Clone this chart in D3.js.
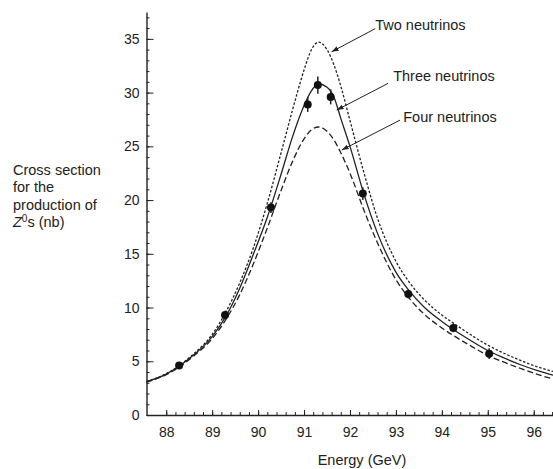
<!DOCTYPE html>
<html>
<head>
<meta charset="utf-8">
<script src="https://cdn.jsdelivr.net/npm/d3@7"></script>
<style>
  body { margin: 0; background: #fff; }
  svg { display: block; font-family: "Liberation Sans", Arial, sans-serif; }
</style>
</head>
<body>
<div id="chart"></div>
<script>
// measured points (energy in GeV, cross section in nb)
const energies = [88.28, 89.28, 90.28, 91.08, 91.3, 91.58, 92.28, 93.27, 94.25, 95.03];
const crossSection = [4.6, 9.3, 19.3, 28.9, 30.7, 29.6, 20.6, 11.25, 8.1, 5.7];
const errors = [0.3, 0.4, 0.5, 0.7, 0.8, 0.7, 0.6, 0.4, 0.4, 0.5];

// predicted curves
const curveEnergy = [87.57, 88.0, 88.3, 88.6, 89.0, 89.3, 89.6, 89.9, 90.2, 90.5, 90.75, 91.0, 91.15, 91.32, 91.5,
    91.65, 91.8, 92.0, 92.3, 92.6, 93.0, 93.3, 93.6, 94.0, 94.25, 94.6, 95.0, 95.3, 95.7, 96.1, 96.42];
const twoNeutrinos = [3.1, 3.85, 4.65, 5.7, 7.5, 9.6, 12.3, 15.6, 19.7, 24.4, 28.4, 32.1, 33.9, 34.7, 34.0,
    32.6, 30.6, 27.4, 22.6, 18.3, 14.3, 12.3, 10.8, 9.3, 8.55, 7.55, 6.5, 5.85, 5.1, 4.45, 4.05];
const threeNeutrinos = [3.1, 3.8, 4.6, 5.6, 7.3, 9.2, 11.8, 15.0, 18.4, 22.4, 25.9, 28.8, 30.1, 30.8, 30.5,
    29.6, 27.6, 25.0, 20.6, 16.9, 13.3, 11.5, 10.1, 8.7, 7.95, 7.0, 6.0, 5.4, 4.7, 4.1, 3.7];
const fourNeutrinos = [3.05, 3.75, 4.5, 5.5, 7.1, 8.9, 11.2, 14.1, 17.4, 20.9, 23.6, 25.7, 26.5, 26.8, 26.4,
    25.6, 24.4, 22.5, 19.1, 16.0, 12.6, 10.8, 9.45, 8.1, 7.4, 6.5, 5.55, 5.0, 4.35, 3.75, 3.35];

const xTicks = [88, 89, 90, 91, 92, 93, 94, 95, 96];
const yTicks = [0, 5, 10, 15, 20, 25, 30, 35];

const labels = ["Two neutrinos", "Three neutrinos", "Four neutrinos"];
const labelAt = [[92.55, 35.8], [92.94, 31.07], [93.16, 27.26]];
const arrowFrom = [[92.55, 35.95], [92.83, 30.86], [93.09, 27.44]];
const arrowTo = [[91.6, 33.8], [91.71, 28.37], [91.82, 24.65]];

const width = 553, height = 469;

const svg = d3.select("#chart").append("svg")
    .attr("width", width)
    .attr("height", height);

const x = d3.scaleLinear().domain([87.57, 96.42]).range([146.5, 553]);
const y = d3.scaleLinear().domain([0, 37.5]).range([415, 12]);

const ink = "#222";

// minor ticks first, then major axes on top
svg.append("g")
    .attr("transform", `translate(0,${y(0)})`)
    .call(d3.axisBottom(x).tickValues(d3.range(88, 96.41, 0.2)).tickSize(-3).tickSizeOuter(0).tickFormat(""))
    .call(g => g.select(".domain").remove());

svg.append("g")
    .attr("transform", `translate(${x(87.57)},0)`)
    .call(d3.axisLeft(y).tickValues(d3.range(0, 37.1, 1)).tickSize(-3).tickSizeOuter(0).tickFormat(""))
    .call(g => g.select(".domain").remove());

const xAxis = svg.append("g")
    .attr("transform", `translate(0,${y(0)})`)
    .call(d3.axisBottom(x).tickValues(xTicks).tickSize(-5).tickSizeOuter(0).tickPadding(12));

const yAxis = svg.append("g")
    .attr("transform", `translate(${x(87.57)},0)`)
    .call(d3.axisLeft(y).tickValues(yTicks).tickSize(-7).tickSizeOuter(0).tickPadding(7));

svg.selectAll(".tick line").attr("stroke", ink).attr("stroke-width", 1);
svg.selectAll(".domain").attr("stroke", ink).attr("stroke-width", 1.4);
svg.selectAll(".tick text")
    .attr("fill", ink)
    .style("font-size", "14px")
    .style("font-family", "'Liberation Sans', Arial, sans-serif");

// curves
const line = d3.line()
    .x((d, i) => x(curveEnergy[i]))
    .y(d => y(d))
    .curve(d3.curveMonotoneX);

const series = [
    { values: twoNeutrinos, dash: "2.5,1.8" },
    { values: threeNeutrinos, dash: null },
    { values: fourNeutrinos, dash: "6,3" }
];

series.forEach(s => {
    svg.append("path")
        .datum(s.values)
        .attr("d", line)
        .attr("fill", "none")
        .attr("stroke", ink)
        .attr("stroke-width", 1.3)
        .attr("stroke-dasharray", s.dash);
});

// data points with error bars
const pts = svg.append("g");
energies.forEach((e, i) => {
    pts.append("line")
        .attr("x1", x(e)).attr("x2", x(e))
        .attr("y1", y(crossSection[i] - errors[i]))
        .attr("y2", y(crossSection[i] + errors[i]))
        .attr("stroke", ink)
        .attr("stroke-width", 1.5);
    pts.append("circle")
        .attr("cx", x(e))
        .attr("cy", y(crossSection[i]))
        .attr("r", 4)
        .attr("fill", "#111");
});

// annotation arrows
const defs = svg.append("defs");
defs.append("marker")
    .attr("id", "arrow")
    .attr("viewBox", "0 0 10 10")
    .attr("refX", 10).attr("refY", 5)
    .attr("markerWidth", 7).attr("markerHeight", 7)
    .attr("orient", "auto")
    .append("path")
    .attr("d", "M0,1.5 L10,5 L0,8.5 z")
    .attr("fill", ink);

labels.forEach((lab, i) => {
    svg.append("line")
        .attr("x1", x(arrowFrom[i][0])).attr("y1", y(arrowFrom[i][1]))
        .attr("x2", x(arrowTo[i][0])).attr("y2", y(arrowTo[i][1]))
        .attr("stroke", ink)
        .attr("stroke-width", 1)
        .attr("marker-end", "url(#arrow)");
    svg.append("text")
        .attr("x", x(labelAt[i][0]))
        .attr("y", y(labelAt[i][1]))
        .attr("fill", ink)
        .style("font-size", "14.5px")
        .text(lab);
});

// axis titles
svg.append("text")
    .attr("x", 362)
    .attr("y", 465)
    .attr("text-anchor", "middle")
    .attr("fill", ink)
    .style("font-size", "14.5px")
    .text("Energy (GeV)");

const yTitle = svg.append("text")
    .attr("fill", ink)
    .style("font-size", "14.5px");
yTitle.append("tspan").attr("x", 13).attr("y", 175).text("Cross section");
yTitle.append("tspan").attr("x", 13).attr("y", 192).text("for the");
yTitle.append("tspan").attr("x", 13).attr("y", 209.5).text("production of");
const last = yTitle.append("tspan").attr("x", 13).attr("y", 227);
last.append("tspan").style("font-style", "italic").text("Z");
last.append("tspan").attr("dy", -5).style("font-size", "10px").text("0");
last.append("tspan").attr("dy", 5).text("s (nb)");
</script>
</body>
</html>
